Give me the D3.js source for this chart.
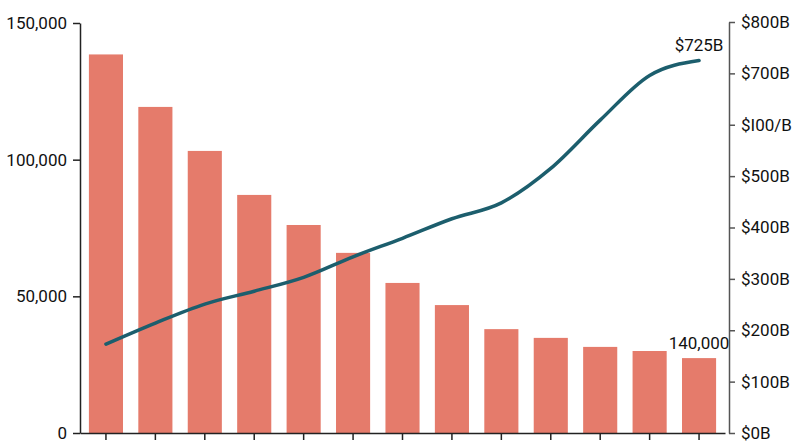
<html>
<head>
<script src="https://d3js.org/d3.v7.min.js"></script>
<style>
  * { margin: 0; padding: 0; }
  body { background: #fff; font-family: 'Roboto', sans-serif; }
  .axis text { font-family: 'Roboto', sans-serif; font-size: 17px; fill: #111; }
  .axis path, .axis line { stroke: #222; stroke-width: 1.5; }
  #y-right path, #y-right line { stroke: #555; }
  .note { font-family: 'Roboto', sans-serif; font-size: 17px; fill: #111; }
</style>
</head>
<body>
<div id="chart"></div>
<script>
// categories are unlabeled on the x axis
var categories = ['c1','c2','c3','c4','c5','c6','c7','c8','c9','c10','c11','c12','c13'];
var barValues = [138500, 119300, 103200, 87100, 76100, 65900, 54900, 46800, 38000, 34800, 31500, 30000, 27400];
var lineValues = [173, 214, 251, 276, 303, 343, 379, 417, 448, 515, 609, 696, 725];
var leftTicks = [0, 50000, 100000, 150000];
var rightTicks = [0, 100, 200, 300, 400, 500, 600, 700, 800];
var rightTickLabels = ['$0B', '$100B', '$200B', '$300B', '$400B', '$500B', '$I00/B', '$700B', '$800B'];
var lineNote = '$725B';
var barNote = '140,000';

var width = 800, height = 447;
var mLeft = 80, mRight = 729, mTop = 23, mBottom = 433;

var svg = d3.select('#chart').append('svg')
  .attr('width', width)
  .attr('height', height);

var x = d3.scaleBand()
  .domain(categories)
  .range([mLeft, mRight - 4])
  .paddingInner(0.31)
  .paddingOuter(0.18);

var yLeft = d3.scaleLinear().domain([0, 150000]).range([mBottom, mTop]);
var yRight = d3.scaleLinear().domain([0, 800]).range([mBottom, mTop - 1]);

svg.append('g')
  .selectAll('rect')
  .data(barValues)
  .enter()
  .append('rect')
  .attr('x', function (d, i) { return x(categories[i]); })
  .attr('y', function (d) { return yLeft(d); })
  .attr('width', x.bandwidth())
  .attr('height', function (d) { return mBottom - yLeft(d); })
  .style('fill', '#e57b6b');

var line = d3.line()
  .x(function (d, i) { return x(categories[i]) + x.bandwidth() / 2; })
  .y(function (d) { return yRight(d); })
  .curve(d3.curveMonotoneX);

svg.append('path')
  .datum(lineValues)
  .attr('d', line)
  .attr('fill', 'none')
  .attr('stroke', '#1c5e6d')
  .attr('stroke-width', 3.5)
  .attr('stroke-linecap', 'round');

svg.append('g')
  .attr('class', 'axis')
  .attr('id', 'x-axis')
  .attr('transform', 'translate(0,' + mBottom + ')')
  .call(d3.axisBottom(x).tickSize(7).tickSizeOuter(0).tickFormat(''));

svg.append('g')
  .attr('class', 'axis')
  .attr('id', 'y-left')
  .attr('transform', 'translate(' + mLeft + ',0)')
  .call(d3.axisLeft(yLeft).tickValues(leftTicks).tickSize(7).tickSizeOuter(0).tickPadding(6)
    .tickFormat(d3.format(',')));

svg.append('g')
  .attr('class', 'axis')
  .attr('id', 'y-right')
  .attr('transform', 'translate(' + mRight + ',0)')
  .call(d3.axisRight(yRight).tickValues(rightTicks).tickSize(6).tickSizeOuter(0).tickPadding(6)
    .tickFormat(function (d, i) { return rightTickLabels[i]; }));

var last = categories.length - 1;
var lastX = x(categories[last]) + x.bandwidth() / 2;

svg.append('text')
  .attr('class', 'note')
  .attr('x', lastX)
  .attr('y', yRight(lineValues[last]) - 10)
  .attr('text-anchor', 'middle')
  .text(lineNote);

svg.append('text')
  .attr('class', 'note')
  .attr('x', lastX)
  .attr('y', yLeft(barValues[last]) - 9)
  .attr('text-anchor', 'middle')
  .text(barNote);
</script>
</body>
</html>
